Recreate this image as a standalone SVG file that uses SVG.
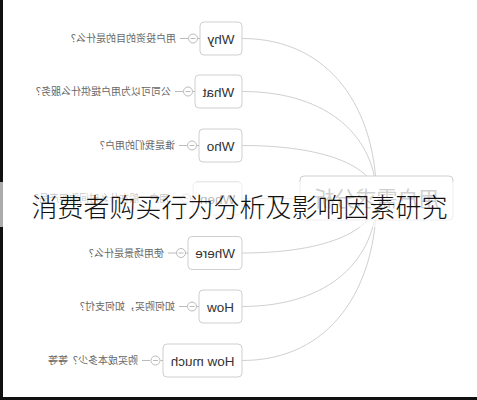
<svg xmlns="http://www.w3.org/2000/svg" width="477" height="400" viewBox="0 0 477 400">
<style>
.box{fill:#fff;stroke:#cfcfcf;stroke-width:1}
.bt{font-family:"Liberation Sans",Arial,sans-serif;font-size:13.5px;fill:#333;text-anchor:middle}
.lb{font-family:"Noto Sans CJK SC",sans-serif;font-size:10px;fill:#666}
.cc{fill:#fff;stroke:#bbb;stroke-width:1}
.ln{stroke:#bbb;stroke-width:1}
.con{fill:none;stroke:#d0d0d0;stroke-width:1}
</style>
<rect x="0" y="0" width="477" height="400" fill="#fff"/>
<g id="mirror" transform="translate(477,0) scale(-1,1)">
<g id="connectors">
<path class="con" d="M235,38.5 C147,38.5 100.5,108.7 100.5,198"/>
<path class="con" d="M235,91.5 C147,91.5 100.5,138.4 100.5,198"/>
<path class="con" d="M235,145.5 C147,145.5 100.5,168.6 100.5,198"/>
<path class="con" d="M235,198.5 L100.5,198"/>
<path class="con" d="M235,253 C147,253 100.5,228.8 100.5,198"/>
<path class="con" d="M235,306.5 C147,306.5 100.5,258.8 100.5,198"/>
<path class="con" d="M235,360.5 C147,360.5 100.5,289 100.5,198"/>
</g>
<g id="center">
<rect class="box" x="24" y="176" width="153" height="44" rx="4" stroke="#ddd"/>
<text x="100.5" y="205.5" font-family="Noto Sans CJK SC,sans-serif" font-size="21" fill="#777" text-anchor="middle">用户需求分析</text>
</g>
<g id="why">
<rect class="box" x="235" y="22" width="42" height="33" rx="4"/>
<text class="bt" x="256" y="43.5">Why</text>
<line class="ln" x1="277" y1="38.5" x2="279.5" y2="38.5"/>
<circle class="cc" cx="284" cy="38.5" r="4.5"/>
<line class="ln" x1="281.5" y1="38.5" x2="286.5" y2="38.5"/>
<line class="ln" x1="289" y1="38.5" x2="297" y2="38.5"/>
<text class="lb" x="301" y="42">用户投资的目的是什么？</text>
</g>
<g id="what">
<rect class="box" x="235" y="75" width="47" height="33" rx="4"/>
<text class="bt" x="258.5" y="96.5">What</text>
<line class="ln" x1="282" y1="91.5" x2="284.5" y2="91.5"/>
<circle class="cc" cx="289" cy="91.5" r="4.5"/>
<line class="ln" x1="286.5" y1="91.5" x2="291.5" y2="91.5"/>
<line class="ln" x1="294" y1="91.5" x2="302" y2="91.5"/>
<text class="lb" x="306" y="95">公司可以为用户提供什么服务？</text>
</g>
<g id="who">
<rect class="box" x="235" y="129" width="43" height="33" rx="4"/>
<text class="bt" x="256.5" y="150.5">Who</text>
<line class="ln" x1="278" y1="145.5" x2="280.5" y2="145.5"/>
<circle class="cc" cx="285" cy="145.5" r="4.5"/>
<line class="ln" x1="282.5" y1="145.5" x2="287.5" y2="145.5"/>
<line class="ln" x1="290" y1="145.5" x2="298" y2="145.5"/>
<text class="lb" x="302" y="149">谁是我们的用户？</text>
</g>
<g id="when">
<rect class="box" x="235" y="182" width="49" height="33" rx="4"/>
<text class="bt" x="259.5" y="203.5">When</text>
<line class="ln" x1="284" y1="198.5" x2="286.5" y2="198.5"/>
<circle class="cc" cx="291" cy="198.5" r="4.5"/>
<line class="ln" x1="288.5" y1="198.5" x2="293.5" y2="198.5"/>
<line class="ln" x1="296" y1="198.5" x2="304" y2="198.5"/>
<text class="lb" x="308" y="202">用户一般在什么时间购买产品？</text>
</g>
<g id="where">
<rect class="box" x="235" y="236.5" width="54" height="33" rx="4"/>
<text class="bt" x="262" y="258">Where</text>
<line class="ln" x1="289" y1="253" x2="291.5" y2="253"/>
<circle class="cc" cx="296" cy="253" r="4.5"/>
<line class="ln" x1="293.5" y1="253" x2="298.5" y2="253"/>
<line class="ln" x1="301" y1="253" x2="309" y2="253"/>
<text class="lb" x="313" y="256.5">使用场景是什么？</text>
</g>
<g id="how">
<rect class="box" x="235" y="290" width="43" height="33" rx="4"/>
<text class="bt" x="256.5" y="311.5">How</text>
<line class="ln" x1="278" y1="306.5" x2="280.5" y2="306.5"/>
<circle class="cc" cx="285" cy="306.5" r="4.5"/>
<line class="ln" x1="282.5" y1="306.5" x2="287.5" y2="306.5"/>
<line class="ln" x1="290" y1="306.5" x2="298" y2="306.5"/>
<text class="lb" x="302" y="310">如何购买，如何支付？</text>
</g>
<g id="howmuch">
<rect class="box" x="235" y="344" width="79" height="33" rx="4"/>
<text class="bt" x="274.5" y="365.5">How much</text>
<line class="ln" x1="314" y1="360.5" x2="316.5" y2="360.5"/>
<circle class="cc" cx="321.5" cy="360.5" r="4.5"/>
<line class="ln" x1="319" y1="360.5" x2="324" y2="360.5"/>
<line class="ln" x1="327" y1="360.5" x2="335" y2="360.5"/>
<text class="lb" x="339" y="364">购买成本多少？等等</text>
</g>
</g>
<rect x="0" y="0" width="3" height="400" fill="#111"/>
<rect x="0" y="397" width="477" height="3" fill="#111"/>
<rect x="0" y="182" width="477" height="45" fill="#fff" fill-opacity="0.65"/>
<text x="239.5" y="217" font-family="Noto Sans CJK SC,sans-serif" font-weight="300" font-size="26" fill="#111" text-anchor="middle">消费者购买行为分析及影响因素研究</text>
</svg>
